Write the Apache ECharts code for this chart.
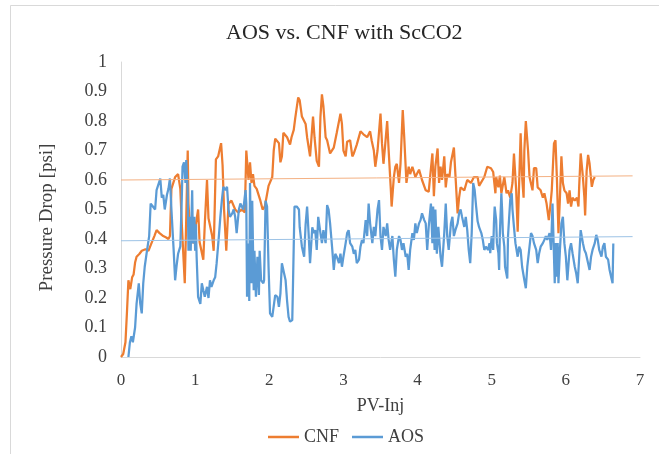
<!DOCTYPE html>
<html>
<head>
<meta charset="utf-8">
<title>AOS vs. CNF with ScCO2</title>
<script src="https://cdn.jsdelivr.net/npm/echarts@6/dist/echarts.min.js"></script>
<style>
    html, body { margin: 0; padding: 0; background: #fff; }
    #main { width: 659px; height: 454px; }
</style>
</head>
<body>
<div id="main"></div>
<script>
// CNF pressure drop vs PV injected
var cnfX = [0.00,0.03,0.06,0.08,0.10,0.125,0.15,0.17,0.19,0.21,0.25,0.28,0.33,0.37,0.41,0.45,0.48,0.52,0.57,0.61,0.64,0.66,0.68,0.73,0.77,0.80,0.82,0.84,0.86,0.88,0.90,0.91,0.93,0.98,1.01,1.04,1.06,1.11,1.13,1.16,1.18,1.23,1.25,1.28,1.31,1.35,1.37,1.39,1.42,1.45,1.49,1.54,1.58,1.63,1.67,1.69,1.72,1.74,1.76,1.78,1.80,1.83,1.88,1.91,1.94,1.99,2.04,2.06,2.08,2.13,2.15,2.17,2.19,2.24,2.28,2.30,2.33,2.35,2.39,2.41,2.44,2.49,2.51,2.53,2.55,2.59,2.61,2.64,2.67,2.69,2.71,2.73,2.76,2.78,2.82,2.87,2.91,2.96,2.98,3.00,3.03,3.05,3.09,3.12,3.14,3.18,3.23,3.27,3.32,3.36,3.38,3.41,3.43,3.46,3.50,3.52,3.54,3.56,3.59,3.61,3.64,3.65,3.68,3.70,3.72,3.75,3.77,3.80,3.82,3.85,3.88,3.90,3.93,3.97,4.02,4.06,4.11,4.15,4.20,4.22,4.24,4.27,4.29,4.31,4.33,4.36,4.38,4.40,4.43,4.45,4.49,4.51,4.54,4.56,4.58,4.63,4.67,4.72,4.76,4.81,4.83,4.85,4.90,4.94,4.99,5.02,5.05,5.06,5.09,5.11,5.13,5.17,5.20,5.22,5.25,5.28,5.30,5.33,5.35,5.37,5.39,5.41,5.43,5.44,5.46,5.49,5.51,5.55,5.57,5.60,5.62,5.66,5.69,5.71,5.74,5.77,5.79,5.81,5.84,5.86,5.88,5.90,5.92,5.94,5.96,5.98,6.01,6.03,6.05,6.07,6.09,6.12,6.15,6.17,6.18,6.20,6.23,6.25,6.26,6.28,6.30,6.32,6.35,6.37,6.39];
var cnfY = [0.00,0.01,0.05,0.15,0.26,0.23,0.27,0.28,0.32,0.34,0.35,0.36,0.365,0.36,0.385,0.41,0.43,0.42,0.41,0.405,0.40,0.41,0.57,0.61,0.62,0.57,0.45,0.35,0.25,0.47,0.70,0.52,0.43,0.385,0.45,0.50,0.39,0.33,0.45,0.60,0.47,0.41,0.36,0.67,0.68,0.725,0.65,0.50,0.36,0.52,0.53,0.50,0.49,0.50,0.49,0.70,0.60,0.66,0.59,0.62,0.58,0.57,0.53,0.50,0.51,0.58,0.61,0.70,0.74,0.725,0.66,0.68,0.76,0.745,0.72,0.745,0.77,0.81,0.88,0.87,0.815,0.79,0.745,0.75,0.68,0.815,0.745,0.665,0.645,0.815,0.89,0.85,0.745,0.735,0.69,0.71,0.76,0.825,0.79,0.70,0.68,0.73,0.735,0.68,0.69,0.72,0.765,0.755,0.745,0.765,0.735,0.70,0.645,0.70,0.825,0.725,0.655,0.71,0.80,0.70,0.565,0.51,0.61,0.645,0.655,0.59,0.655,0.837,0.745,0.59,0.645,0.62,0.645,0.61,0.635,0.60,0.565,0.56,0.69,0.545,0.645,0.707,0.59,0.645,0.60,0.68,0.575,0.62,0.61,0.66,0.71,0.62,0.487,0.54,0.575,0.565,0.60,0.59,0.61,0.61,0.58,0.575,0.61,0.645,0.64,0.627,0.555,0.61,0.575,0.615,0.555,0.61,0.555,0.565,0.54,0.59,0.69,0.565,0.425,0.59,0.758,0.61,0.54,0.70,0.80,0.70,0.61,0.565,0.64,0.64,0.575,0.565,0.54,0.555,0.52,0.464,0.51,0.565,0.724,0.735,0.60,0.42,0.54,0.68,0.59,0.565,0.555,0.52,0.565,0.51,0.54,0.53,0.54,0.51,0.58,0.69,0.61,0.54,0.48,0.63,0.685,0.655,0.577,0.60,0.61];

// AOS pressure drop vs PV injected
var aosX = [0.10,0.12,0.14,0.16,0.19,0.21,0.24,0.26,0.28,0.30,0.32,0.35,0.38,0.40,0.43,0.46,0.48,0.53,0.55,0.57,0.59,0.62,0.64,0.66,0.68,0.71,0.73,0.75,0.77,0.80,0.82,0.83,0.85,0.87,0.88,0.90,0.91,0.93,0.94,0.96,0.97,0.99,1.00,1.01,1.02,1.04,1.07,1.09,1.11,1.13,1.16,1.18,1.20,1.22,1.25,1.27,1.29,1.32,1.34,1.36,1.38,1.41,1.43,1.45,1.47,1.50,1.52,1.54,1.56,1.59,1.61,1.63,1.65,1.68,1.69,1.70,1.72,1.73,1.74,1.76,1.77,1.79,1.80,1.82,1.84,1.86,1.87,1.89,1.92,1.93,1.95,1.97,1.99,2.01,2.04,2.06,2.08,2.11,2.13,2.15,2.17,2.20,2.22,2.24,2.26,2.28,2.31,2.32,2.34,2.37,2.40,2.41,2.44,2.47,2.49,2.51,2.53,2.55,2.58,2.60,2.62,2.64,2.66,2.69,2.71,2.73,2.76,2.78,2.80,2.82,2.85,2.87,2.89,2.91,2.94,2.96,2.98,3.00,3.03,3.05,3.07,3.09,3.12,3.14,3.16,3.18,3.21,3.23,3.25,3.27,3.30,3.32,3.34,3.36,3.39,3.41,3.43,3.46,3.48,3.50,3.52,3.54,3.57,3.59,3.61,3.63,3.66,3.68,3.70,3.72,3.75,3.77,3.79,3.81,3.84,3.86,3.88,3.90,3.93,3.95,3.97,3.99,4.02,4.04,4.06,4.09,4.11,4.13,4.15,4.18,4.20,4.21,4.23,4.24,4.26,4.28,4.31,4.33,4.36,4.38,4.40,4.42,4.45,4.47,4.49,4.51,4.54,4.56,4.58,4.60,4.63,4.65,4.67,4.69,4.71,4.73,4.75,4.77,4.79,4.81,4.83,4.86,4.88,4.90,4.92,4.95,4.97,4.98,5.00,5.02,5.03,5.04,5.06,5.07,5.09,5.10,5.11,5.13,5.14,5.15,5.17,5.18,5.21,5.22,5.25,5.27,5.28,5.30,5.32,5.35,5.37,5.39,5.41,5.44,5.46,5.48,5.51,5.53,5.55,5.57,5.60,5.62,5.64,5.66,5.69,5.71,5.73,5.75,5.78,5.80,5.82,5.83,5.85,5.86,5.87,5.89,5.90,5.92,5.94,5.96,5.98,6.00,6.02,6.05,6.07,6.09,6.12,6.14,6.16,6.18,6.20,6.23,6.25,6.27,6.30,6.32,6.34,6.36,6.39,6.41,6.43,6.45,6.48,6.50,6.52,6.54,6.57,6.59,6.61,6.63,6.64];
var aosY = [0.00,0.05,0.07,0.05,0.10,0.18,0.25,0.18,0.148,0.25,0.306,0.36,0.41,0.52,0.51,0.50,0.566,0.605,0.54,0.55,0.50,0.55,0.57,0.605,0.50,0.363,0.26,0.31,0.35,0.375,0.54,0.645,0.66,0.59,0.668,0.555,0.36,0.475,0.36,0.565,0.385,0.475,0.36,0.45,0.34,0.204,0.18,0.25,0.226,0.204,0.238,0.20,0.26,0.238,0.26,0.27,0.318,0.41,0.475,0.53,0.577,0.566,0.577,0.50,0.475,0.487,0.50,0.475,0.42,0.50,0.52,0.51,0.50,0.566,0.52,0.204,0.385,0.19,0.59,0.25,0.53,0.226,0.36,0.204,0.34,0.21,0.36,0.26,0.25,0.26,0.53,0.51,0.306,0.148,0.136,0.136,0.21,0.204,0.17,0.215,0.318,0.283,0.26,0.19,0.136,0.12,0.125,0.25,0.51,0.51,0.50,0.44,0.374,0.34,0.45,0.51,0.42,0.318,0.44,0.42,0.43,0.363,0.475,0.42,0.386,0.43,0.386,0.515,0.50,0.453,0.363,0.295,0.35,0.34,0.318,0.35,0.306,0.34,0.386,0.42,0.43,0.386,0.374,0.35,0.363,0.318,0.33,0.374,0.397,0.386,0.464,0.41,0.52,0.453,0.386,0.441,0.41,0.50,0.532,0.41,0.363,0.441,0.41,0.453,0.397,0.363,0.41,0.33,0.272,0.363,0.41,0.397,0.363,0.386,0.34,0.35,0.295,0.363,0.42,0.397,0.453,0.42,0.453,0.464,0.487,0.464,0.453,0.363,0.441,0.52,0.386,0.51,0.363,0.50,0.35,0.441,0.34,0.306,0.42,0.52,0.41,0.363,0.453,0.475,0.41,0.43,0.453,0.487,0.50,0.475,0.441,0.475,0.43,0.363,0.318,0.42,0.59,0.566,0.51,0.46,0.44,0.42,0.397,0.363,0.374,0.363,0.386,0.352,0.41,0.363,0.453,0.51,0.464,0.386,0.352,0.295,0.42,0.555,0.50,0.42,0.374,0.306,0.266,0.41,0.534,0.555,0.50,0.441,0.386,0.34,0.374,0.363,0.306,0.261,0.233,0.306,0.374,0.42,0.41,0.386,0.363,0.318,0.352,0.374,0.386,0.397,0.41,0.397,0.42,0.363,0.52,0.43,0.25,0.386,0.272,0.386,0.25,0.363,0.453,0.475,0.386,0.34,0.26,0.363,0.386,0.352,0.306,0.283,0.25,0.34,0.43,0.386,0.363,0.352,0.318,0.295,0.34,0.363,0.386,0.414,0.397,0.363,0.34,0.374,0.386,0.34,0.33,0.295,0.272,0.25,0.385];

// linear trendlines (end points)
var trendX = [0, 6.9];
var cnfTrend = [0.600, 0.614];
var aosTrend = [0.394, 0.408];

function zip(xs, ys) {
    var out = [];
    for (var i = 0; i < xs.length; i++) out.push([xs[i], ys[i]]);
    return out;
}

var serif = '"Liberation Serif", "DejaVu Serif", serif';
var orange = '#ED7D31';
var blue = '#5B9BD5';

var myChart = echarts.init(document.getElementById('main'));
myChart.setOption({
    backgroundColor: '#fff',
    animation: false,
    title: {
        text: 'AOS vs. CNF with ScCO2',
        left: 221,
        top: 17,
        textStyle: { fontFamily: serif, fontSize: 22, fontWeight: 'normal', color: '#262626' }
    },
    graphic: [
        { type: 'polyline', shape: { points: [[10.5, 460], [10.5, 5.5], [665, 5.5]] },
          style: { stroke: '#d9d9d9', fill: null, lineWidth: 1 }, silent: true }
    ],
    legend: {
        data: ['CNF', 'AOS'],
        top: 423,
        left: 263,
        icon: 'rect',
        itemWidth: 31,
        itemHeight: 2.5,
        itemGap: 13,
        textStyle: { fontFamily: serif, fontSize: 18, color: '#404040' }
    },
    grid: { left: 121, right: 19, top: 62, bottom: 97 },
    xAxis: {
        type: 'value',
        min: 0, max: 7, interval: 1,
        name: 'PV-Inj',
        nameLocation: 'middle',
        nameGap: 40,
        nameTextStyle: { fontFamily: serif, fontSize: 18, color: '#404040' },
        axisLine: { lineStyle: { color: '#d9d9d9' } },
        axisTick: { show: false },
        splitLine: { show: false },
        axisLabel: { margin: 15, fontFamily: serif, fontSize: 17, color: '#404040' }
    },
    yAxis: {
        type: 'value',
        min: 0, max: 1, interval: 0.1,
        name: 'Pressure Drop [psi]',
        nameLocation: 'middle',
        nameGap: 64,
        nameTextStyle: { fontFamily: serif, fontSize: 19, color: '#404040', padding: [0, 16, 0, 0] },
        axisLine: { show: true, lineStyle: { color: '#d9d9d9' } },
        axisTick: { show: false },
        splitLine: { show: false },
        axisLabel: { margin: 14, fontFamily: serif, fontSize: 18, color: '#404040' }
    },
    series: [
        {
            name: 'CNF', type: 'line', data: zip(cnfX, cnfY),
            showSymbol: false, symbol: 'none',
            lineStyle: { color: orange, width: 2.25 }, itemStyle: { color: orange }, z: 3
        },
        {
            name: 'AOS', type: 'line', data: zip(aosX, aosY),
            showSymbol: false, symbol: 'none',
            lineStyle: { color: blue, width: 2.25 }, itemStyle: { color: blue }, z: 4
        },
        {
            name: 'CNF trend', type: 'line', data: zip(trendX, cnfTrend),
            showSymbol: false, symbol: 'none', silent: true,
            lineStyle: { color: '#F4B183', width: 1 }, z: 5
        },
        {
            name: 'AOS trend', type: 'line', data: zip(trendX, aosTrend),
            showSymbol: false, symbol: 'none', silent: true,
            lineStyle: { color: '#9DC3E6', width: 1 }, z: 5
        }
    ]
});
</script>
</body>
</html>
